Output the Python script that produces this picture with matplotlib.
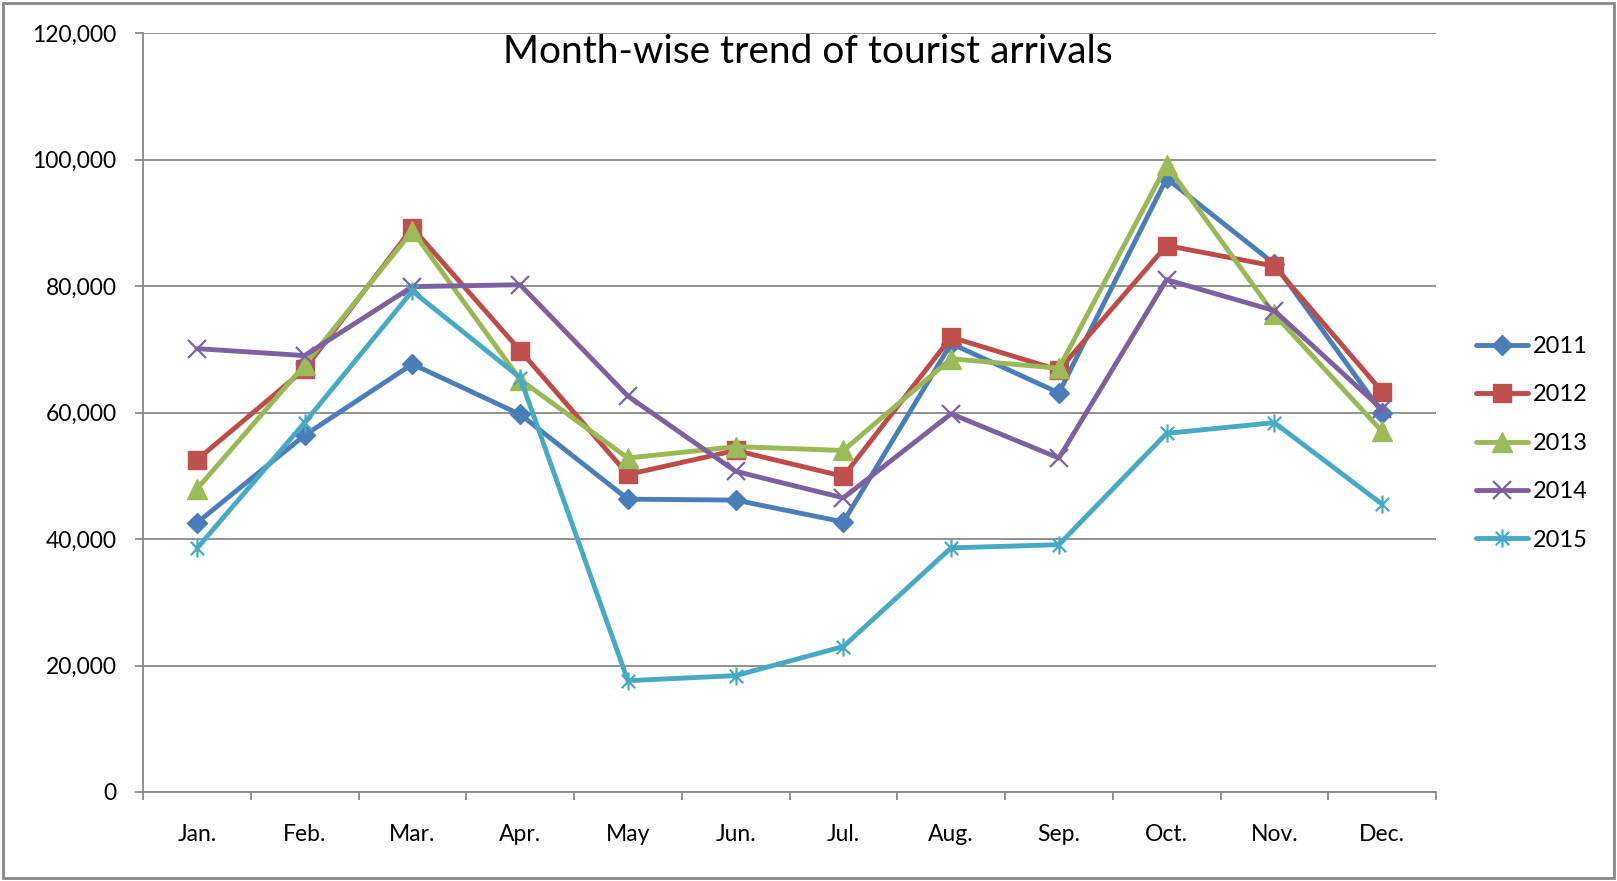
import matplotlib
matplotlib.use("Agg")
import matplotlib.pyplot as plt
from matplotlib.path import Path
from matplotlib.patches import Rectangle
from matplotlib.ticker import FuncFormatter, FixedLocator

months = ["Jan.", "Feb.", "Mar.", "Apr.", "May", "Jun.", "Jul.", "Aug.", "Sep.", "Oct.", "Nov.", "Dec."]
y2011 = [42550, 56400, 67650, 59700, 46300, 46150, 42700, 70900, 63100, 97000, 83500, 60000]
y2012 = [52500, 66850, 89200, 69800, 50200, 54000, 49900, 71900, 66700, 86400, 83150, 63300]
y2013 = [47900, 67500, 88700, 65200, 52800, 54600, 54000, 68500, 67000, 99100, 75500, 57000]
y2014 = [70100, 69000, 79900, 80200, 62600, 50700, 46500, 59800, 52800, 81000, 76100, 60500]
y2015 = [38500, 58400, 79200, 65500, 17600, 18400, 23000, 38600, 39100, 56700, 58400, 45500]
series_labels = ["2011", "2012", "2013", "2014", "2015"]

plt.rcParams['font.family'] = ['Lato', 'DejaVu Sans']

fig = plt.figure(figsize=(16.17, 8.81), dpi=100)
ax = fig.add_axes([143/1617, 1-792/881, (1436-143)/1617, (792-33)/881])

star = Path([(-1, -1), (1, 1), (-1, 1), (1, -1), (0, -1.35), (0, 1.35)],
            [Path.MOVETO, Path.LINETO, Path.MOVETO, Path.LINETO, Path.MOVETO, Path.LINETO])

x = list(range(len(months)))
styles = [
    dict(color="#4A7EBB", marker="D", ms=10.5, mfc="#4A7EBB", mec="#4A7EBB"),
    dict(color="#BE4B48", marker="s", ms=13.5, mfc="#C0504D", mec="#C0504D"),
    dict(color="#98B954", marker="^", ms=14.5, mfc="#9BBB59", mec="#9BBB59"),
    dict(color="#7D60A0", marker="x", ms=13, mec="#7D60A0", mew=1.6),
    dict(color="#46AAC5", marker=star, ms=13, mec="#46AAC5", mfc="none", mew=1.6),
]
for data, lab, st in zip([y2011, y2012, y2013, y2014, y2015], series_labels, styles):
    ax.plot(x, data, lw=3.5, label=lab, solid_joinstyle="round", solid_capstyle="round", **st)

ax.set_xlim(-0.5, 11.5)
ax.set_ylim(0, 120000)
ax.yaxis.set_major_locator(FixedLocator(range(0, 120001, 20000)))
ax.yaxis.set_major_formatter(FuncFormatter(lambda v, p: f"{int(v):,}"))
ax.grid(axis="y", color="#888888", lw=1.3)
ax.set_axisbelow(True)

ax.set_xticks([i - 0.5 for i in range(13)])
ax.set_xticklabels([])
ax.set_xticks(x, minor=True)
ax.set_xticklabels(months, minor=True)
ax.tick_params(axis="x", which="major", length=6, width=1.3, color="#888888", direction="out")
ax.tick_params(axis="x", which="minor", length=0, pad=23, labelsize=16.5)
ax.tick_params(axis="y", length=6, width=1.3, color="#888888", pad=13, labelsize=16.5)

for s in ["top", "right"]:
    ax.spines[s].set_visible(False)
for s in ["left", "bottom"]:
    ax.spines[s].set_color("#888888")
    ax.spines[s].set_linewidth(1.3)

fig.text(808/1617, 1-52/881, "Month-wise trend of tourist arrivals", ha="center", va="center", fontsize=28)

leg = ax.legend(loc="upper left", bbox_to_anchor=(1476/1617, 1-336/881), bbox_transform=fig.transFigure,
                frameon=False, fontsize=17, handlelength=2.2, handletextpad=0.2, labelspacing=1.16,
                borderaxespad=0, borderpad=0)

fig.patches.append(Rectangle((3/1617, 3/881), 1-6/1617, 1-6/881, transform=fig.transFigure,
                             fill=False, edgecolor="#888888", lw=2))

fig.savefig("out.png", dpi=100)
